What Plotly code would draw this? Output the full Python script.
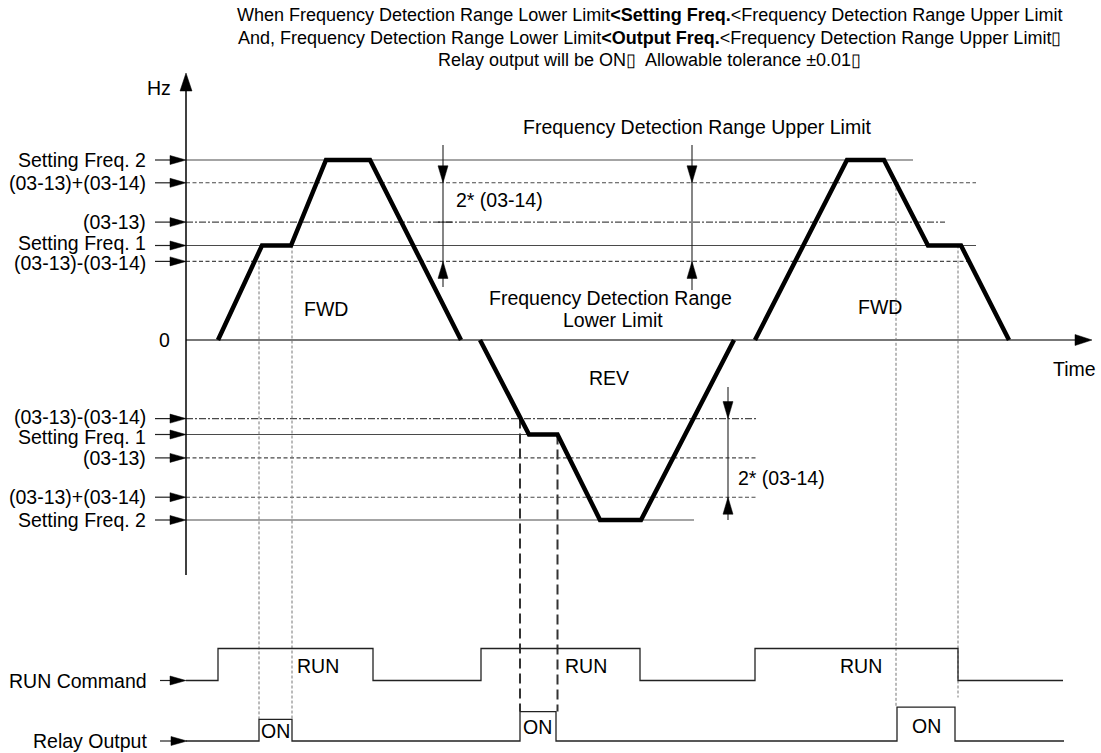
import plotly.graph_objects as go

W, H = 1101, 753
FONT = "Liberation Sans, Arial, Helvetica, sans-serif"

# ---------------- data ----------------
SET_FREQ_1 = 31.5          # Hz
SET_FREQ_2 = 60.0          # Hz
P03_13 = 39.3              # detection level (03-13)
P03_14 = 13.1              # detection width (03-14)
UPPER = P03_13 + P03_14
LOWER = P03_13 - P03_14

# output frequency profile (time units, Hz)
fwd1_time = [218, 262, 291, 326, 370, 461]
fwd1_freq = [0, SET_FREQ_1, SET_FREQ_1, SET_FREQ_2, SET_FREQ_2, 0]
rev_time = [480, 529, 557.5, 600, 641, 734]
rev_freq = [0, -SET_FREQ_1, -SET_FREQ_1, -SET_FREQ_2, -SET_FREQ_2, 0]
fwd2_time = [755, 847, 884, 928, 961, 1009]
fwd2_freq = [0, SET_FREQ_2, SET_FREQ_2, SET_FREQ_1, SET_FREQ_1, 0]

# reference levels
pos_labels = ["Setting Freq. 2", "(03-13)+(03-14)", "(03-13)", "Setting Freq. 1", "(03-13)-(03-14)"]
pos_values = [SET_FREQ_2, UPPER, P03_13, SET_FREQ_1, LOWER]
pos_styles = ["solid", "dash", "dashdot", "solid", "dash"]
pos_end = [913, 976, 945, 976, 967]
neg_labels = ["(03-13)-(03-14)", "Setting Freq. 1", "(03-13)", "(03-13)+(03-14)", "Setting Freq. 2"]
neg_values = [-LOWER, -SET_FREQ_1, -P03_13, -UPPER, -SET_FREQ_2]
neg_styles = ["dashdot", "solid", "dash", "dash", "solid"]
neg_end = [756, 529, 756, 756, 694]

# RUN command & relay output (logic levels)
run_time = [186, 218, 218, 373, 373, 481, 481, 640, 640, 755, 755, 958, 958, 1063]
run_level = [0, 0, 1, 1, 0, 0, 1, 1, 0, 0, 1, 1, 0, 0]
relay_time = [186, 259, 259, 292, 292, 520, 520, 556, 556, 897, 897, 955, 955, 1064]
relay_level = [0, 0, 0.72, 0.72, 0, 0, 0.98, 0.98, 0, 0, 1.13, 1.13, 0, 0]

# detection instants (dashed guide lines)
detect_time = [259, 292, 520, 557.5, 896, 958]
detect_from = [LOWER, SET_FREQ_1, -LOWER, -SET_FREQ_1, UPPER, SET_FREQ_1]
detect_to_relay = [0.72, 0.72, 0.98, 0.98, 1.13, 1.45]
detect_bold = [False, False, True, True, False, False]

# ---------------- axis mapping ----------------
Y0_PX, PX_PER_HZ = 340.0, 3.0
RUN_LOW_PX, RUN_UNIT_PX = 680.5, 32.0
REL_LOW_PX, REL_UNIT_PX = 741.0, 30.0
AXIS_T = 186
LABEL_SIZE = 19.5


def hz_of_px(py):
    return (Y0_PX - py) / PX_PER_HZ


def relay_to_hz(v):
    return hz_of_px(REL_LOW_PX - REL_UNIT_PX * v)


def run_to_hz(v):
    return hz_of_px(RUN_LOW_PX - RUN_UNIT_PX * v)


def P(px, py):
    return px / W, 1 - py / H


DASH = {"solid": "solid", "dash": "4px,2.5px", "dashdot": "7px,2px,2px,2px"}
GRAY = "#4a4a4a"

fig = go.Figure()

heads_x, heads_y = [], []


def head(tx, ty, d, length=16, half=4.5):
    L = length
    hh = half / PX_PER_HZ
    lh = L / PX_PER_HZ
    if d == "right":
        pts = [(tx - L, ty + hh), (tx, ty), (tx - L, ty - hh)]
    elif d == "up":
        pts = [(tx - half, ty - lh), (tx, ty), (tx + half, ty - lh)]
    else:
        pts = [(tx - half, ty + lh), (tx, ty), (tx + half, ty + lh)]
    for x, y in pts + [pts[0]]:
        heads_x.append(x)
        heads_y.append(y)
    heads_x.append(None)
    heads_y.append(None)


def seg(x0, y0, x1, y1, color="#000", width=1.2, dash="solid"):
    fig.add_trace(go.Scatter(x=[x0, x1], y=[y0, y1], mode="lines",
                             line=dict(color=color, width=width, dash=dash)))


# reference lines
for vals, styles, ends in ((pos_values, pos_styles, pos_end), (neg_values, neg_styles, neg_end)):
    for v, s, e in zip(vals, styles, ends):
        seg(AXIS_T, v, e, v, color=GRAY, width=1.1, dash=DASH[s])

# zero / time axis
seg(AXIS_T, 0, 1078, 0, color=GRAY, width=1.3)
head(1092, 0, "right", length=17, half=5.5)

# detection guide lines
for t, f0, r, b in zip(detect_time, detect_from, detect_to_relay, detect_bold):
    if b:
        seg(t, f0, t, relay_to_hz(r), color="#333", width=2, dash="10px,5px")
    else:
        seg(t, f0, t, relay_to_hz(r), color="#777", width=1, dash="3px,2px")

# frequency curve
for tt, ff in ((fwd1_time, fwd1_freq), (rev_time, rev_freq), (fwd2_time, fwd2_freq)):
    fig.add_trace(go.Scatter(x=tt, y=ff, mode="lines",
                             line=dict(color="#000", width=4.5)))

# vertical Hz axis
seg(AXIS_T, hz_of_px(575), AXIS_T, hz_of_px(90), color="#000", width=1.5)
head(AXIS_T, hz_of_px(73), "up", length=18, half=6)

# dimension arrows 2*(03-14)
for xd, ytop, ybot in ((443, hz_of_px(145), hz_of_px(287)), (692, hz_of_px(145), hz_of_px(290))):
    seg(xd, ytop, xd, ybot, color="#222", width=1.1)
    head(xd, UPPER, "down", length=17, half=5)
    head(xd, LOWER, "up", length=17, half=5)
seg(438, P03_13, 452, P03_13, color="#222", width=1.1)
seg(728, hz_of_px(387), 728, hz_of_px(520), color="#222", width=1.1)
head(728, -LOWER, "down", length=17, half=5)
head(728, -UPPER, "up", length=17, half=5)

# label arrows on the left
for v in pos_values + neg_values:
    seg(155, v, AXIS_T - 10, v, color="#222", width=1.2)
    head(AXIS_T, v, "right", length=16, half=4.5)
seg(160, run_to_hz(0), AXIS_T - 10, run_to_hz(0), color="#222", width=1.2)
head(AXIS_T, run_to_hz(0), "right", length=16, half=4.5)
seg(160, relay_to_hz(0), AXIS_T - 10, relay_to_hz(0), color="#222", width=1.2)
head(AXIS_T + 1, relay_to_hz(0), "right", length=16, half=4.5)

fig.add_trace(go.Scatter(x=heads_x, y=heads_y, mode="lines", fill="toself",
                         fillcolor="#000", line=dict(color="#000", width=0.5)))

# RUN command / relay output signals
fig.add_trace(go.Scatter(x=run_time, y=run_level, yaxis="y2", mode="lines",
                         line=dict(color="#222", width=1.3)))
fig.add_trace(go.Scatter(x=relay_time, y=relay_level, yaxis="y3", mode="lines",
                         line=dict(color="#222", width=1.3)))

# ---------------- text ----------------
ann = []


def txt(text, px, py, size=LABEL_SIZE, xanchor="center"):
    x, y = P(px, py)
    ann.append(dict(text=text, x=x, y=y, xref="paper", yref="paper", xanchor=xanchor,
                    yanchor="middle", showarrow=False,
                    font=dict(size=size, family=FONT, color="#000")))


def dtxt(text, x, y, yref="y", xanchor="right"):
    ann.append(dict(text=text, x=x, y=y, xref="x", yref=yref, xanchor=xanchor,
                    yanchor="middle", showarrow=False,
                    font=dict(size=LABEL_SIZE, family=FONT, color="#000")))


title_lines = [
    "When Frequency Detection Range Lower Limit<b>&lt;Setting Freq.</b>&lt;Frequency Detection Range Upper Limit",
    "And, Frequency Detection Range Lower Limit<b>&lt;Output Freq.</b>&lt;Frequency Detection Range Upper Limit▯",
    "Relay output will be ON▯  Allowable tolerance ±0.01▯",
]
for line, py in zip(title_lines, (15, 38, 60)):
    txt(line, 650, py, size=18)

# left labels; the tightly-spaced pairs are nudged apart slightly as in the reference
label_nudge = {3: 1.0, 4: -0.4, 5: 0.4, 6: -0.8}
for i, (lab, v) in enumerate(zip(pos_labels + neg_labels, pos_values + neg_values)):
    dtxt(lab, 148, v + label_nudge.get(i, 0.0))
dtxt("0", 172, 0)
dtxt("RUN Command", 149, 0, yref="y2")
dtxt("Relay Output", 149, 0, yref="y3")

txt("Hz", 159, 88)
txt("Time", 1074, 369)
txt("Frequency Detection Range Upper Limit", 697, 127)
txt("Frequency Detection Range", 610, 298)
txt("Lower Limit", 613, 320)
txt("FWD", 326, 309)
txt("FWD", 880, 307)
txt("REV", 609, 378)
dtxt("2* (03-14)", 454, (UPPER + P03_13) / 2 + 0.8, xanchor="left")
dtxt("2* (03-14)", 736, -(UPPER + P03_13) / 2, xanchor="left")
for px in (318, 586, 861):
    txt("RUN", px, 666)
txt("ON", 275, 731)
txt("ON", 537, 727)
txt("ON", 926, 726)

fig.update_layout(
    width=W, height=H, margin=dict(l=0, r=0, t=0, b=0),
    paper_bgcolor="white", plot_bgcolor="white", showlegend=False,
    hovermode=False, annotations=ann,
    xaxis=dict(range=[0, W], visible=False, fixedrange=True),
    yaxis=dict(range=[hz_of_px(H), hz_of_px(0)], visible=False, fixedrange=True),
    yaxis2=dict(range=[(RUN_LOW_PX - H) / RUN_UNIT_PX, RUN_LOW_PX / RUN_UNIT_PX],
                overlaying="y", visible=False, fixedrange=True),
    yaxis3=dict(range=[(REL_LOW_PX - H) / REL_UNIT_PX, REL_LOW_PX / REL_UNIT_PX],
                overlaying="y", visible=False, fixedrange=True),
)

fig.write_html("out.html", config={"displayModeBar": False},
               post_script="document.body.style.margin='0px';")
